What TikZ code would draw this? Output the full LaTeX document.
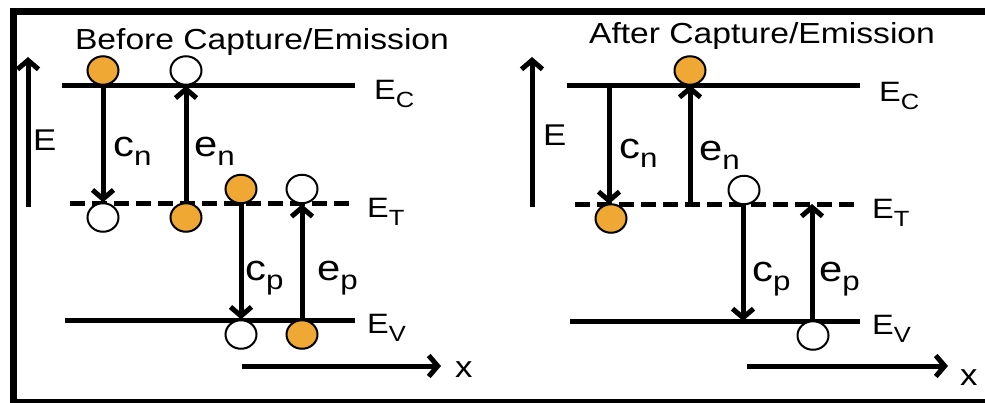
\documentclass[tikz,border=0pt]{standalone}
\usepackage{fontspec}
\setmainfont{Liberation Sans}[FakeStretch=1.16]
\usepackage{tikz}
\usetikzlibrary{arrows.meta,positioning,shapes.geometric}
\usepackage{xcolor}
\definecolor{carrier}{RGB}{240,168,52}

\newcommand{\lvlname}[1]{{\fontsize{28}{28}\selectfont E}\raisebox{-8pt}{\fontsize{22}{22}\selectfont #1}}
\newcommand{\ratename}[2]{{\fontsize{36}{36}\selectfont #1}\raisebox{-9pt}{\fontsize{27}{27}\selectfont #2}}

\begin{document}
\begin{tikzpicture}[x=1pt, y=-1pt,
    level/.style={line width=5pt},
    trap/.style={line width=5pt, dash pattern=on 15pt off 7pt},
    rate/.style={line width=5pt, -{Straight Barb[length=9pt, width=21pt]}},
    filled/.style={ellipse, draw, line width=2pt, fill=carrier, minimum width=31pt,
                   minimum height=28.5pt, inner sep=0pt},
    empty/.style={filled, fill=white},
    lvl/.style={anchor=base west, inner sep=0pt},
    title/.style={anchor=base, inner sep=0pt, font=\fontsize{29}{29}\selectfont}
  ]
  \clip (0,0) rectangle (985,402);
  \useasboundingbox (0,0) rectangle (985,402);
  \draw[line width=7pt] (13.5,11) rectangle (1000,402.5);

  % Before capture/emission
  \node[title] (btitle) at (262,49) {Before Capture/Emission};
  \coordinate (bEtail) at (28,207);
  \coordinate (bEhead) at (28,57);
  \draw[rate] (bEtail) -- (bEhead);
  \node[lvl, font=\fontsize{30}{30}\selectfont] (bE) at (33,150) {E};

  \coordinate (bC1) at (62,85);  \coordinate (bC2) at (355,85);
  \coordinate (bT1) at (70,203); \coordinate (bT2) at (355,203);
  \coordinate (bV1) at (65,320); \coordinate (bV2) at (355,320);
  \draw[level] (bC1) -- (bC2);
  \draw[trap]  (bT1) -- (bT2);
  \draw[level] (bV1) -- (bV2);
  \node[lvl] (bEC) at (374,99)  {\lvlname{C}};
  \node[lvl] (bET) at (367,217) {\lvlname{T}};
  \node[lvl] (bEV) at (367,333) {\lvlname{V}};

  \node[filled] (bn1) at (103,70.5)  {};
  \node[empty]  (bh1) at (186,70.5)  {};
  \node[empty]  (bh2) at (103,217.5) {};
  \node[filled] (bn2) at (186,217.5) {};
  \node[filled] (bn3) at (241,189)   {};
  \node[empty]  (bh3) at (302,189)   {};
  \node[empty]  (bh4) at (241,334.5) {};
  \node[filled] (bn4) at (302,334.5) {};

  \draw[rate] (bn1.south) -- (bh2.north);
  \draw[rate] (bn2.north) -- (bh1.south);
  \draw[rate] (bn3.south) -- (bh4.north);
  \draw[rate] (bn4.north) -- (bh3.south);
  \node[lvl] (bcn) at (113,156) {\ratename{c}{n}};
  \node[lvl] (ben) at (194,156) {\ratename{e}{n}};
  \node[lvl] (bcp) at (245,280) {\ratename{c}{p}};
  \node[lvl] (bep) at (317,280) {\ratename{e}{p}};

  \coordinate (bxtail) at (242,366);
  \coordinate (bxhead) at (441,366);
  \draw[rate] (bxtail) -- (bxhead);
  \node[lvl, font=\fontsize{30}{30}\selectfont] (bx) at (455,377) {x};

  % After capture/emission
  \node[title] (atitle) at (762,43) {After Capture/Emission};
  \coordinate (aEtail) at (532,207);
  \coordinate (aEhead) at (532,57);
  \draw[rate] (aEtail) -- (aEhead);
  \node[lvl, font=\fontsize{30}{30}\selectfont] (aE) at (543,145) {E};

  \coordinate (aC1) at (567,85);  \coordinate (aC2) at (860,85);
  \coordinate (aT1) at (575,204); \coordinate (aT2) at (860,204);
  \coordinate (aV1) at (570,321); \coordinate (aV2) at (860,321);
  \draw[level] (aC1) -- (aC2);
  \draw[trap]  (aT1) -- (aT2);
  \draw[level] (aV1) -- (aV2);
  \node[lvl] (aEC) at (879,101) {\lvlname{C}};
  \node[lvl] (aET) at (872,218) {\lvlname{T}};
  \node[lvl] (aEV) at (872,334) {\lvlname{V}};

  \coordinate (acn) at (609,85);
  \coordinate (aen) at (690,204);
  \coordinate (acp) at (743,321);
  \coordinate (aep) at (812,204);
  \draw[rate] (acn) -- (acn |- aT1);
  \draw[rate] (aen) -- (aen |- aC1);
  \draw[rate] (acp |- aT1) -- (acp);
  \draw[rate] (aep |- aV1) -- (aep);

  \node[filled] (an1) at (690,70.5)  {};
  \node[filled] (an2) at (611,218.5) {};
  \node[empty]  (ah1) at (744,190)   {};
  \node[empty]  (ah2) at (813,335.5) {};

  \node[lvl] (acnl) at (619,158) {\ratename{c}{n}};
  \node[lvl] (aenl) at (699,160) {\ratename{e}{n}};
  \node[lvl] (acpl) at (752,281) {\ratename{c}{p}};
  \node[lvl] (aepl) at (819,281) {\ratename{e}{p}};

  \coordinate (axtail) at (747,366);
  \coordinate (axhead) at (948,366);
  \draw[rate] (axtail) -- (axhead);
  \node[lvl, font=\fontsize{30}{30}\selectfont] (ax) at (960,385) {x};
\end{tikzpicture}
\end{document}
